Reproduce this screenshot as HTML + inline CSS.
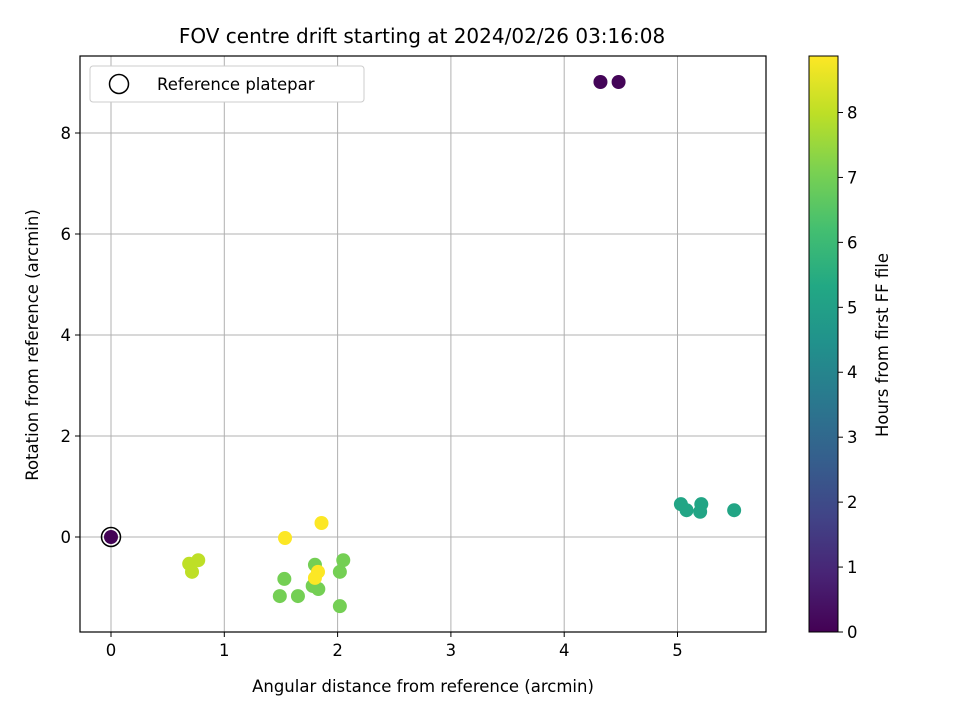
<!DOCTYPE html>
<html><head><meta charset="utf-8"><style>body{margin:0;background:#fff}svg text{font-family:"DejaVu Sans","Liberation Sans",sans-serif;fill:#000}</style></head>
<body>
<svg id="c" width="960" height="720"></svg>
<script>
const xs=[0,4.32,4.48,5.03,5.08,5.21,5.20,5.50,1.80,2.05,2.02,1.53,1.49,1.65,1.78,1.83,2.02,0.69,0.715,0.77,1.858,1.536,1.827,1.80];
const ys=[0,9.01,9.01,0.65,0.53,0.65,0.50,0.53,-0.55,-0.46,-0.69,-0.83,-1.17,-1.17,-0.97,-1.03,-1.37,-0.53,-0.69,-0.46,0.277,-0.02,-0.69,-0.81];
const hours=[0.05,0.1,0.1,5.2,5.2,5.2,5.2,5.2,7.0,7.0,7.0,7.0,7.0,7.0,7.0,7.0,7.0,8.0,8.0,8.0,8.85,8.85,8.85,8.85];
const xTicks=[0,1,2,3,4,5];const yTicks=[0,2,4,6,8];const cTicks=[0,1,2,3,4,5,6,7,8];
const cMax=8.87;
const V=['#440154','#482475','#414487','#355f8d','#2a788e','#21918c','#22a884','#44bf70','#7ad151','#bddf26','#fde725'];
function vir(t){t=Math.max(0,Math.min(1,t))*10;const i=Math.min(9,Math.floor(t)),f=t-i;const a=V[i],b=V[i+1];let o='#';for(let k=1;k<7;k+=2){const v=Math.round(parseInt(a.substr(k,2),16)*(1-f)+parseInt(b.substr(k,2),16)*f);o+=v.toString(16).padStart(2,'0');}return o;}
const L=80,R=766,T=56,B=632;
const X=v=>111+v*113.3, Y=v=>537-v*50.5, CY=v=>632-v*(576/cMax);
const s=document.getElementById('c');const ns='http://www.w3.org/2000/svg';
function el(t,a,p){const e=document.createElementNS(ns,t);for(const k in a)e.setAttribute(k,a[k]);(p||s).appendChild(e);return e;}
function tx(x,y,str,a){const e=el('text',Object.assign({x:x,y:y,'font-size':16.5},a||{}));e.textContent=str;return e;}
xTicks.forEach(v=>{const g=el('line',{x1:X(v),x2:X(v),y1:T,y2:B,stroke:'#b0b0b0','stroke-width':1});
el('line',{x1:X(v),x2:X(v),y1:B,y2:B+5,stroke:'#000'});const t=tx(X(v),B+24,String(v),{'text-anchor':'middle'});});
yTicks.forEach(v=>{const g=el('line',{x1:L,x2:R,y1:Y(v),y2:Y(v),stroke:'#b0b0b0','stroke-width':1});
el('line',{x1:L-5,x2:L,y1:Y(v),y2:Y(v),stroke:'#000'});const t=tx(L-9,Y(v)+6,String(v),{'text-anchor':'end'});});
xs.forEach((v,i)=>{const c=el('circle',{cx:X(v),cy:Y(ys[i]),r:7,fill:vir(hours[i]/cMax)});});
const ref=el('circle',{cx:X(0),cy:Y(0),r:9.5,fill:'none',stroke:'#000','stroke-width':1.5});
el('rect',{x:L,y:T,width:R-L,height:B-T,fill:'none',stroke:'#000','stroke-width':1.2});
const t1=tx(422,43,'FOV centre drift starting at 2024/02/26 03:16:08',{'text-anchor':'middle','font-size':20});
const t2=tx(423,692,'Angular distance from reference (arcmin)',{'text-anchor':'middle','font-size':16.5});
const t3=tx(0,0,'Rotation from reference (arcmin)',{'text-anchor':'middle','font-size':16.5,transform:'translate(38,345) rotate(-90)'});
const lg=el('g',{});
el('rect',{x:90,y:66,width:274,height:36,rx:3,fill:'#fff',stroke:'#ccc'},lg);
el('circle',{cx:119,cy:84,r:9.5,fill:'none',stroke:'#000','stroke-width':1.5},lg);
const lt=tx(157,90,'Reference platepar',{'font-size':16.5});lg.appendChild(lt);
const defs=el('defs',{});const gr=el('linearGradient',{id:'g',x1:0,y1:1,x2:0,y2:0},defs);
V.forEach((c,i)=>el('stop',{offset:i/10,'stop-color':c},gr));
const cb=el('rect',{x:809,y:56,width:29,height:576,fill:'url(#g)',stroke:'#000','stroke-width':1});
cTicks.forEach(v=>{el('line',{x1:838,x2:843,y1:CY(v),y2:CY(v),stroke:'#000'});const t=tx(847,CY(v)+6,String(v));});
const t4=tx(0,0,'Hours from first FF file',{'text-anchor':'middle','font-size':16.5,transform:'translate(888,345) rotate(-90)'});
</script>
</body></html>
